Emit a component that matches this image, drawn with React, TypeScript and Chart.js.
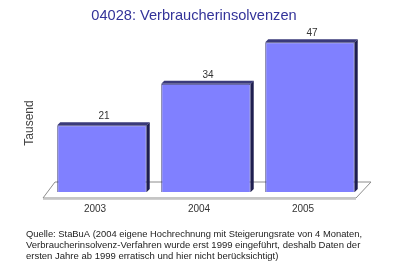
import React, { useEffect, useRef } from "react";
import { Chart, registerables } from "chart.js";

Chart.register(...registerables);

const categories = ["2003", "2004", "2005"];
const values = [21, 34, 47];
const titleText = "04028: Verbraucherinsolvenzen";
const yAxisTitle = "Tausend";
const footerLines = [
  "Quelle: StaBuA (2004 eigene Hochrechnung mit Steigerungsrate von 4 Monaten,",
  "Verbraucherinsolvenz-Verfahren wurde erst 1999 eingeführt, deshalb Daten der",
  "ersten Jahre ab 1999 erratisch und hier nicht berücksichtigt)",
];

const FONT = "'Liberation Sans', Arial, sans-serif";

const bar3dPlugin = {
  id: "bar3d",
  beforeDatasetsDraw(chart: any) {
    const { ctx, chartArea } = chart;
    const l = chartArea.left;
    const r = chartArea.right;
    const b = chartArea.bottom;
    ctx.save();
    // floor parallelogram
    ctx.beginPath();
    ctx.moveTo(l - 7, b + 6);
    ctx.lineTo(r - 6, b + 6);
    ctx.lineTo(r + 9, b - 10);
    ctx.lineTo(l + 5, b - 10);
    ctx.closePath();
    ctx.fillStyle = "#ffffff";
    ctx.fill();
    ctx.strokeStyle = "#8c8c8c";
    ctx.lineWidth = 1;
    ctx.stroke();
    ctx.beginPath();
    ctx.moveTo(l - 7, b + 7.5);
    ctx.lineTo(r - 6, b + 7.5);
    ctx.strokeStyle = "#d0d0d0";
    ctx.stroke();
    ctx.restore();
  },
  afterDatasetsDraw(chart: any) {
    const { ctx } = chart;
    const meta = chart.getDatasetMeta(0);
    ctx.save();
    meta.data.forEach((bar: any, i: number) => {
      const x0 = bar.x - bar.width / 2;
      const x1 = bar.x + bar.width / 2;
      const top = bar.y;
      const bottom = bar.base;
      const d = 3;
      // top face
      ctx.beginPath();
      ctx.moveTo(x0, top);
      ctx.lineTo(x0 + d, top - d);
      ctx.lineTo(x1 + d, top - d);
      ctx.lineTo(x1, top);
      ctx.closePath();
      ctx.fillStyle = "#3a3a7a";
      ctx.fill();
      // side face
      ctx.beginPath();
      ctx.moveTo(x1, top);
      ctx.lineTo(x1 + d, top - d);
      ctx.lineTo(x1 + d, bottom - d);
      ctx.lineTo(x1, bottom);
      ctx.closePath();
      ctx.fillStyle = "#1e1e50";
      ctx.fill();
      // value label
      ctx.fillStyle = "#333333";
      ctx.font = `10px ${FONT}`;
      ctx.textAlign = "center";
      ctx.textBaseline = "middle";
      ctx.fillText(String(values[i]), bar.x + 2, top - 9);
    });
    // y axis title
    ctx.save();
    ctx.translate(30, 123);
    ctx.rotate(-Math.PI / 2);
    ctx.font = `12px ${FONT}`;
    ctx.fillStyle = "#444444";
    ctx.textAlign = "center";
    ctx.textBaseline = "middle";
    ctx.fillText(yAxisTitle, 0, 0);
    ctx.restore();
    ctx.restore();
  },
};

export default function App() {
  const ref = useRef<HTMLCanvasElement | null>(null);
  useEffect(() => {
    if (!ref.current) return;
    const chart = new Chart(ref.current, {
      type: "bar",
      data: {
        labels: categories,
        datasets: [
          {
            data: values,
            backgroundColor: "#8080ff",
            borderColor: "#2e2e6e",
            borderWidth: 1,
            barPercentage: 0.86,
            categoryPercentage: 1,
          },
        ],
      },
      options: {
        responsive: false,
        animation: false,
        devicePixelRatio: 1,
        layout: { padding: { left: 26, right: 33, top: 0, bottom: 6.5 } },
        plugins: {
          legend: { display: false },
          tooltip: { enabled: false },
          title: {
            display: true,
            text: titleText,
            color: "#333399",
            font: { family: FONT, size: 14.6, weight: "normal", lineHeight: 1.2 },
            padding: { top: 7.5, bottom: 7.8 },
          },
          subtitle: {
            display: true,
            position: "bottom",
            align: "start",
            text: footerLines,
            color: "#222222",
            font: { family: FONT, size: 9.5, weight: "normal", lineHeight: 11 / 9.5 },
            padding: { top: 0, bottom: 0 },
          },
        },
        scales: {
          x: {
            grid: { display: false, drawTicks: false },
            border: { display: false },
            ticks: {
              color: "#333333",
              font: { family: FONT, size: 10 },
              padding: 11,
              labelOffset: -7,
            },
            afterFit: (s: any) => {
              s.height = 36.5;
            },
          },
          y: {
            min: 0,
            max: 50,
            display: true,
            grid: { display: false, drawTicks: false },
            border: { display: false },
            ticks: { display: false },
            afterFit: (s: any) => {
              s.width = 24;
            },
          },
        },
      },
      plugins: [bar3dPlugin],
    });
    return () => chart.destroy();
  }, []);
  return (
    <div style={{ position: "absolute", left: 0, top: 0, width: 395, height: 268, background: "#fff" }}>
      <canvas ref={ref} width={395} height={268} style={{ width: 395, height: 268, display: "block" }} />
    </div>
  );
}
